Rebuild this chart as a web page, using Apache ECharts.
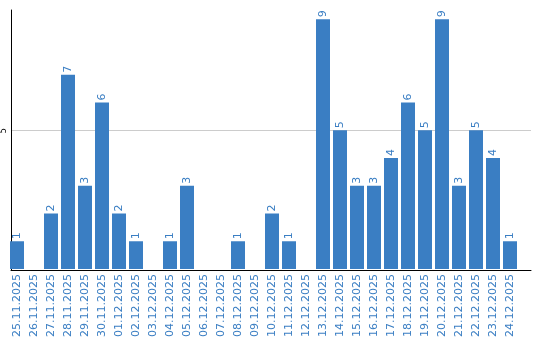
<!DOCTYPE html>
<html>
<head>
<meta charset="utf-8">
<style>html,body{margin:0;padding:0;background:#fff}#c{width:540px;height:340px}</style>
<script src="https://cdn.jsdelivr.net/npm/echarts@6/dist/echarts.min.js"></script>
</head>
<body>
<div id="c"></div>
<script>
const categories = ['25.11.2025','26.11.2025','27.11.2025','28.11.2025','29.11.2025','30.11.2025','01.12.2025','02.12.2025','03.12.2025','04.12.2025','05.12.2025','06.12.2025','07.12.2025','08.12.2025','09.12.2025','10.12.2025','11.12.2025','12.12.2025','13.12.2025','14.12.2025','15.12.2025','16.12.2025','17.12.2025','18.12.2025','19.12.2025','20.12.2025','21.12.2025','22.12.2025','23.12.2025','24.12.2025'];
const values = [1,0,2,7,3,6,2,1,0,1,3,0,0,1,0,2,1,0,9,5,3,3,4,6,5,9,3,5,4,1];
const yTickLabels = [5];
const yMax = 9.33;

const blue = '#3a7ec3';
const chart = echarts.init(document.getElementById('c'), null, {renderer: 'canvas'});
chart.setOption({
  animation: false,
  textStyle: {fontFamily: 'DejaVu Sans'},
  grid: [
    {left: 8.5, width: 510, top: 10, bottom: 70, containLabel: false},
    {left: 10, right: 9, top: 10, bottom: 70, containLabel: false}
  ],
  xAxis: [
    {
      type: 'category', gridIndex: 0, data: categories,
      axisLine: {show: false}, axisTick: {show: false}, splitLine: {show: false},
      axisLabel: {rotate: 90, interval: 0, color: blue, fontSize: 11, margin: 5, fontFamily: 'DejaVu Sans'}
    },
    {
      type: 'value', gridIndex: 1, min: 0, max: 1,
      axisLine: {show: true, onZero: false, lineStyle: {color: '#000', width: 1}},
      axisTick: {show: false}, axisLabel: {show: false}, splitLine: {show: false}
    }
  ],
  yAxis: [
    {
      type: 'value', gridIndex: 0, min: 0, max: yMax,
      axisLine: {show: false}, axisTick: {show: false}, axisLabel: {show: false}, splitLine: {show: false}
    },
    {
      type: 'value', gridIndex: 1, min: 0, max: yMax, interval: 5,
      axisLine: {show: true, lineStyle: {color: '#000', width: 1}},
      axisTick: {show: false},
      axisLabel: {
        showMaxLabel: false, showMinLabel: false, rotate: 90, margin: 3,
        fontSize: 8, color: '#000', fontFamily: 'DejaVu Sans',
        formatter: v => (yTickLabels.indexOf(v) >= 0 ? String(v) : '')
      },
      splitLine: {show: true, lineStyle: {color: ['rgba(0,0,0,0)', '#cccccc', 'rgba(0,0,0,0)'], width: 1}}
    }
  ],
  series: [
    {
      type: 'bar', xAxisIndex: 0, yAxisIndex: 0, data: values, barWidth: 14,
      itemStyle: {color: blue},
      label: {
        show: true, position: 'top', rotate: 90, align: 'left', verticalAlign: 'middle',
        distance: 2, color: blue, fontSize: 11, fontFamily: 'DejaVu Sans',
        formatter: p => (p.value ? String(p.value) : '')
      }
    }
  ]
});
</script>
</body>
</html>
